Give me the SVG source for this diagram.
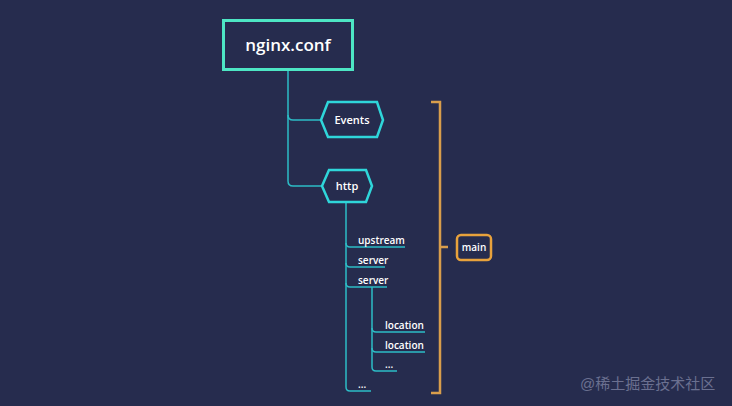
<svg xmlns="http://www.w3.org/2000/svg" width="732" height="406" viewBox="0 0 732 406">
<style>
.t{font-family:"Open Sans","Noto Sans","Liberation Sans",sans-serif;fill:#ffffff;font-weight:600}
.c{fill:none;stroke:#2cbcc6;stroke-width:1.5}
.hx{fill:#262c4e;stroke:#2fd6da;stroke-width:2.5}
.br{fill:none;stroke:#d99e4c;stroke-width:2.5}
</style>
<rect width="732" height="406" fill="#262c4e"/>
<g id="connectors">
<path class="c" d="M288 70 V115 Q288 120 293 120 H322"/>
<path class="c" d="M288 115 V181 Q288 186 293 186 H322"/>
<path class="c" d="M346 203 V243 Q346 247 350 247 H405"/>
<path class="c" d="M346 243 V263 Q346 267 350 267 H385"/>
<path class="c" d="M346 263 V283 Q346 287 350 287 H387"/>
<path class="c" d="M346 283 V387 Q346 391 350 391 H371"/>
<path class="c" d="M372 287 V328 Q372 332 376 332 H425"/>
<path class="c" d="M372 328 V348 Q372 352 376 352 H425"/>
<path class="c" d="M372 348 V367 Q372 371 376 371 H397"/>
</g>
<g id="root">
<rect x="223.5" y="20.5" width="129" height="49" fill="#262c4e" stroke="#4de6c4" stroke-width="3"/>
<text class="t" x="288" y="51" text-anchor="middle" font-size="17" font-weight="bold">nginx.conf</text>
</g>
<g id="events">
<polygon class="hx" points="321,120 328,102 377,102 383,120 377,137 328,137"/>
<text class="t" x="352" y="124" text-anchor="middle" font-size="11">Events</text>
</g>
<g id="http">
<polygon class="hx" points="322,186 329,170 366,170 372,186 366,202 329,202"/>
<text class="t" x="347" y="190" text-anchor="middle" font-size="11">http</text>
</g>
<g id="upstream"><text class="t" x="358" y="244" font-size="10">upstream</text></g>
<g id="server1"><text class="t" x="358" y="264" font-size="10">server</text></g>
<g id="server2"><text class="t" x="358" y="284" font-size="10">server</text></g>
<g id="location1"><text class="t" x="385" y="329" font-size="10">location</text></g>
<g id="location2"><text class="t" x="385" y="349" font-size="10">location</text></g>
<g id="dots1"><text class="t" x="385" y="368" font-size="10">...</text></g>
<g id="dots2"><text class="t" x="358" y="388" font-size="10">...</text></g>
<g id="bracket">
<path class="br" d="M431 102 H440 V393 H431 M440 247 H448"/>
</g>
<g id="main">
<rect x="457" y="235" width="34" height="25" rx="4" fill="#262c4e" stroke="#e8a23c" stroke-width="2.5"/>
<text class="t" x="474" y="251" text-anchor="middle" font-size="10">main</text>
</g>
<text x="580" y="389" font-family="'Liberation Sans','Noto Sans CJK SC',sans-serif" font-size="15" fill="#6b7090">@稀土掘金技术社区</text>
</svg>
